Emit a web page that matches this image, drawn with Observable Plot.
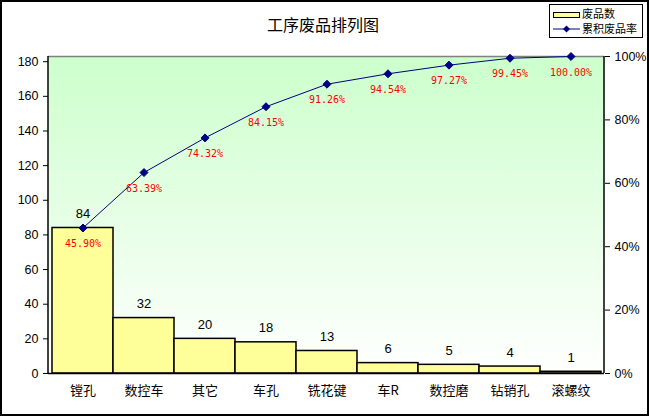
<!DOCTYPE html>
<html><head><meta charset="utf-8">
<script src="https://cdn.jsdelivr.net/npm/d3@7"></script>
<script src="https://cdn.jsdelivr.net/npm/@observablehq/plot@0.6"></script>
<style>
body{margin:0;background:#fff;}
#wrap{position:relative;width:649px;height:416px;overflow:hidden;background:#fff;}
#chart{position:absolute;left:0;top:0;}
#border{position:absolute;left:0;top:0;width:649px;height:416px;box-sizing:border-box;border:2px solid #000;pointer-events:none;}
#title{position:absolute;left:0;width:646px;top:12px;text-align:center;font:16px "Noto Sans CJK SC";color:#000;}
#legend{position:absolute;left:549px;top:4px;}
</style>
</head><body>
<div id="wrap">
  <div id="chart"></div>
  <div id="title">工序废品排列图</div>
  <div id="legend"></div>
  <div id="border"></div>
</div>
<script>
const categories = ["镗孔","数控车","其它","车孔","铣花键","车R","数控磨","钻销孔","滚螺纹"];
const counts = [84,32,20,18,13,6,5,4,1];
const cumPct = [45.90,63.39,74.32,84.15,91.26,94.54,97.27,99.45,100.00];
const total = 183;
const leftTicks = [0,20,40,60,80,100,120,140,160,180];
const rightTicks = [0,20,40,60,80,100];
const legendLabels = ["废品数","累积废品率"];

const data = categories.map((c,i)=>({cat:c, count:counts[i], pct:cumPct[i]}));
const pctY = d => d.pct / 100 * total;

const defsMark = () => {
  const defs = d3.create("svg:defs");
  const g = defs.append("linearGradient").attr("id","bgGrad")
    .attr("x1",0).attr("y1",0).attr("x2",0).attr("y2",1);
  g.append("stop").attr("offset","0%").attr("stop-color","#CCFFCC");
  g.append("stop").attr("offset","100%").attr("stop-color","#FFFFFF");
  return defs.node();
};
const sideLines = (index, scales, values, dim) => {
  const g = d3.create("svg:g").attr("stroke","#000").attr("stroke-width",1.5);
  const x0 = dim.marginLeft, x1 = dim.width - dim.marginRight;
  const y0 = dim.marginTop, y1 = dim.height - dim.marginBottom;
  g.append("line").attr("x1",x0).attr("x2",x0).attr("y1",y0).attr("y2",y1);
  g.append("line").attr("x1",x1).attr("x2",x1).attr("y1",y0).attr("y2",y1);
  return g.node();
};

const chart = Plot.plot({
  width: 649, height: 416,
  marginLeft: 48, marginRight: 45, marginTop: 56, marginBottom: 43,
  style: {fontFamily: "'Liberation Sans', Arial, sans-serif", fontSize: "12.5px", background: "transparent", color: "#000"},
  x: {domain: categories, padding: 0, label: null},
  y: {domain: [0, total], label: null},
  marks: [
    defsMark,
    Plot.frame({fill: "url(#bgGrad)", stroke: "none"}),
    Plot.ruleY([total], {stroke: "#808080", strokeWidth: 1.5}),
    Plot.barY(data, {x: "cat", y: "count", fill: "#FFFF99", stroke: "#000", strokeWidth: 1.5, inset: 0}),
    Plot.ruleY([0], {stroke: "#000", strokeWidth: 1.5}),
    sideLines,
    Plot.line(data, {x: "cat", y: pctY, stroke: "#000080", strokeWidth: 1}),
    Plot.dot(data, {x: "cat", y: pctY, symbol: "diamond2", r: 3.6, fill: "#000080", stroke: "#000080", strokeWidth: 1}),
    Plot.text(data, {x: "cat", y: "count", text: d => String(d.count), dy: -14, fontSize: 13, fill: "#000"}),
    Plot.text(data, {x: "cat", y: pctY, text: d => d.pct.toFixed(2) + "%", dy: 16, fill: "#FF0000", fontFamily: "'DejaVu Sans Mono', monospace", fontSize: 10}),
    Plot.axisY({anchor: "left", ticks: leftTicks, tickSize: 5, tickPadding: 5, label: null, tickFormat: d => String(d)}),
    Plot.axisY({anchor: "right", ticks: rightTicks.map(p => p / 100 * total), tickSize: 5, tickPadding: 5, label: null, tickFormat: v => Math.round(v / total * 100) + "%"}),
    Plot.axisX({tickSize: 0, tickPadding: 12, label: null, fontFamily: "'Noto Sans CJK SC'", fontSize: 13})
  ]
});
document.getElementById("chart").appendChild(chart);

// legend
const lg = d3.select("#legend").append("svg").attr("width", 95).attr("height", 35)
  .style("font-family", "'Noto Sans CJK SC'").style("font-size", "11px");
lg.append("rect").attr("x",0.5).attr("y",0.5).attr("width",93).attr("height",33).attr("fill","#fff").attr("stroke","#000");
lg.append("rect").attr("x",4.5).attr("y",8.5).attr("width",26).attr("height",5).attr("fill","#FFFF99").attr("stroke","#000");
lg.append("text").attr("x",33).attr("y",10.5).attr("dy","0.35em").text(legendLabels[0]);
lg.append("line").attr("x1",4).attr("x2",31).attr("y1",25).attr("y2",25).attr("stroke","#000080");
lg.append("path").attr("d","M17.5,21.5L21,25L17.5,28.5L14,25Z").attr("fill","#000080");
lg.append("text").attr("x",33).attr("y",25.5).attr("dy","0.35em").text(legendLabels[1]);
</script>
</body></html>
